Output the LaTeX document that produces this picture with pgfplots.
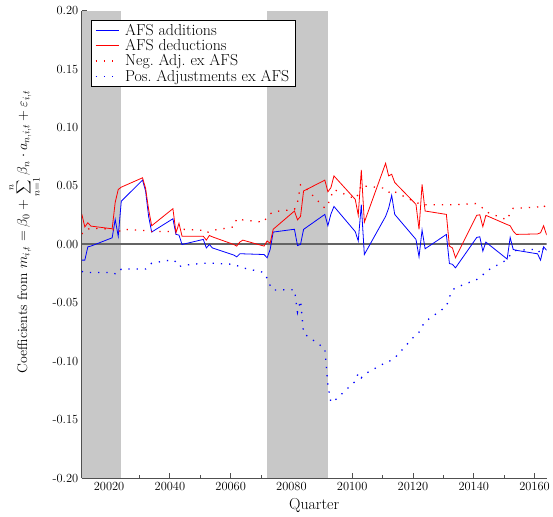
\documentclass[border=0pt]{standalone}
\usepackage{pgfplots}
\usepackage{pgfplotstable}
\pgfplotsset{compat=1.18}
\definecolor{shade}{RGB}{200,200,200}
\definecolor{axgray}{RGB}{80,80,80}
\definecolor{zerogray}{RGB}{100,100,100}

\pgfplotstableread{
q      add      ded      neg     pos
20011  -0.0134  0.0260   0.009   -0.023
20012  -0.0134  0.0150   0.012   -0.024
20013  -0.0020  0.0186   0.013   -0.024
20014  -0.0014  0.0157   0.014   -0.024
20021   0.0057  0.0134   0.013   -0.024
20022   0.0214  0.0360   0.012   -0.025
20023   0.0070  0.0470   0.010   -0.025
20024   0.0370  0.0490   0.013   -0.021
20031   0.0550  0.0570   0.012   -0.021
20032   0.0457  0.0480   0.012   -0.021
20033   0.0240  0.0300   0.011   -0.019
20034   0.0106  0.0160   0.011   -0.016
20041   0.0220  0.0306   0.011   -0.013
20042   0.0086  0.0100   0.012   -0.015
20043   0.0080  0.0180   0.013   -0.019
20044   0.0000  0.0070   0.013   -0.018
20051   0.0043  0.0070   0.012   -0.016
20052  -0.0030  0.0037   0.010   -0.016
20053   0.0000  0.0077   0.011   -0.016
20054  -0.0030  0.0065   0.012   -0.016
20061  -0.0090  0.0000   0.015   -0.017
20062  -0.0106 -0.0014   0.022   -0.018
20063  -0.0080  0.0020   0.022   -0.019
20064  -0.0080  0.0037   0.021   -0.020
20071  -0.0086 -0.0014   0.019   -0.024
20072  -0.0114  0.0030   0.024   -0.029
20073  -0.0043  0.0010   0.026   -0.035
20074   0.0106  0.0130   0.028   -0.039
20081   0.0130  0.0286   0.030   -0.0386
20082  -0.0009  0.0210   0.036   -0.058
20083   0.0000  0.0240   0.051   -0.048
20084   0.0129  0.0457   0.050   -0.076
20091   0.0257  0.0550   0.031   -0.089
20092   0.0160  0.0450   0.034   -0.120
20093   0.0260  0.0486   0.041   -0.135
20094   0.0325  0.0586   0.047   -0.134
20101   0.0110  0.0386   0.039   -0.117
20102   0.0030  0.0250   0.043   -0.110
20103   0.0340  0.0637   0.051   -0.114
20104  -0.0086  0.0190   0.050   -0.111
20111   0.0240  0.0694   0.048   -0.101
20112   0.0310  0.0586   0.045   -0.100
20113   0.0420  0.0600   0.043   -0.099
20114   0.0257  0.0530   0.045   -0.097
20121   0.0043  0.0343   0.036   -0.077
20122  -0.0106  0.0129   0.035   -0.075
20123   0.0123  0.0514   0.035   -0.070
20124  -0.0037  0.0286   0.034   -0.066
20131   0.0086  0.0257   0.034   -0.053
20132  -0.0163 -0.0014   0.034   -0.045
20133  -0.0170 -0.0030   0.034   -0.039
20134  -0.0200 -0.0114   0.034   -0.037
20141   0.0060  0.0249   0.035   -0.030
20142   0.0066  0.0254   0.033   -0.028
20143  -0.0057  0.0152   0.031   -0.026
20144   0.0020  0.0249   0.028   -0.023
20151  -0.0125  0.0170   0.021   -0.013
20152   0.0060  0.0160   0.027   -0.009
20153  -0.0043  0.0114   0.031   -0.006
20154  -0.0050  0.0086   0.031   -0.005
20161  -0.0080  0.0090   0.032   -0.004
20162  -0.0134  0.0100   0.033   -0.008
20163  -0.0020  0.0160   0.034   -0.003
20164  -0.0050  0.0080   0.029   -0.004
}\datatable

\begin{document}
\begin{tikzpicture}
\begin{axis}[
  scale only axis,
  width=468pt, height=471pt,
  xmin=20011, xmax=20164,
  ymin=-0.2, ymax=0.2,
  axis x line*=bottom, axis y line*=left,
  axis line style={axgray, line width=1.3pt},
  tick align=inside,
  major tick length=5.5pt, minor tick length=3pt,
  every tick/.style={axgray, line width=0.9pt},
  scaled ticks=false,
  xtick={20020,20040,20060,20080,20100,20120,20140,20160},
  xticklabels={20020,20040,20060,20080,20100,20120,20140,20160},
  minor xtick={20030,20050,20070,20090,20110,20130,20150},
  ytick={-0.2,-0.15,-0.1,-0.05,0,0.05,0.1,0.15,0.2},
  yticklabels={-0.20,-0.15,-0.10,-0.05,0.00,0.05,0.10,0.15,0.20},
  minor ytick={-0.175,-0.125,-0.075,-0.025,0.025,0.075,0.125,0.175},
  ticklabel style={font=\fontsize{12.5}{15}\selectfont},
  xlabel={Quarter},
  ylabel={Coefficients from $m_{i,t}=\beta_0+\displaystyle\sum_{n=1}^{n}\beta_n\cdot a_{n,i,t}+\varepsilon_{i,t}$},
  label style={font=\fontsize{14}{17}\selectfont},
  xlabel style={font=\fontsize{16}{19}\selectfont, yshift=-1.5pt},
  ylabel style={inner ysep=8.5pt, at={(ticklabel cs:0.527)}},
  legend style={at={(0.019,0.98)}, anchor=north west, draw=black, line width=0.8pt,
    font=\fontsize{16}{19}\selectfont, fill=white, row sep=-1.5pt,
    inner xsep=4pt, inner ysep=2pt},
  legend cell align=left,
  legend image code/.code={\draw[#1] (0cm,0cm) -- (0.83cm,0cm); \path (0.95cm,0cm);},
  clip=true,
]
\addplot[fill=shade, draw=none, forget plot] coordinates {(20011,-0.2) (20011,0.2) (20024,0.2) (20024,-0.2)} -- cycle;
\addplot[fill=shade, draw=none, forget plot] coordinates {(20072,-0.2) (20072,0.2) (20092,0.2) (20092,-0.2)} -- cycle;
\addplot[zerogray, line width=2pt, forget plot] coordinates {(20011,0) (20164,0)};

\addplot[blue, line width=0.8pt] table[x=q, y=add] {\datatable};
\addlegendentry{AFS additions}
\addplot[red, line width=0.8pt] table[x=q, y=ded] {\datatable};
\addlegendentry{AFS deductions}
\addplot[red, line width=1.3pt, dash pattern=on 1.3pt off 7pt] table[x=q, y=neg] {\datatable};
\addlegendentry{Neg.\ Adj.\ ex AFS}
\addplot[blue, line width=1.3pt, dash pattern=on 1.3pt off 7pt] table[x=q, y=pos] {\datatable};
\addlegendentry{Pos.\ Adjustments ex AFS}
\end{axis}
\path (current bounding box.north) ++(0,3pt);
\end{tikzpicture}
\end{document}
